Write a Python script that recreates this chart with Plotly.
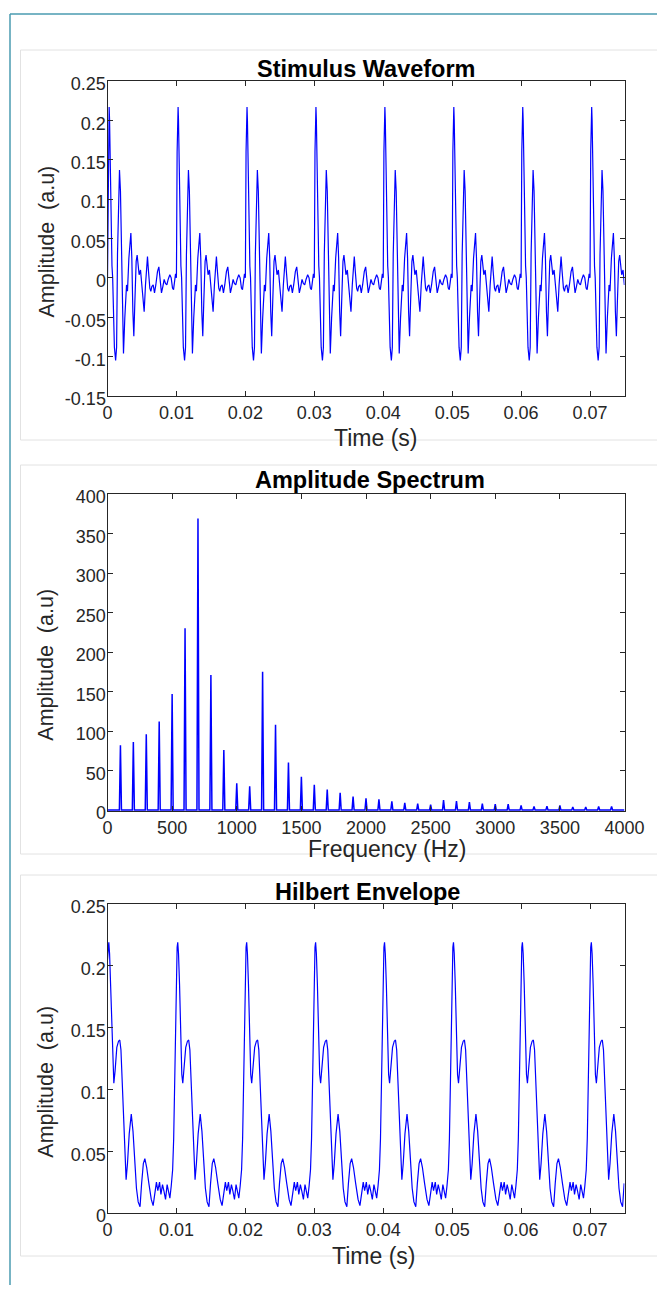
import numpy as np
import plotly.graph_objects as go

# page is 665x1293; the body keeps its 8px margin, so the figure is 16px smaller
PAGE_W, PAGE_H = 665, 1293
MARGIN = 8
W, H = PAGE_W - 2 * MARGIN, PAGE_H - 2 * MARGIN

# One 10 ms period of the stimulus (ms, a.u.)
wave_t_ms = [0.00, 0.10, 0.17, 0.24, 0.30, 0.36, 0.45, 0.55, 0.65, 0.75, 0.88, 1.00,
             1.18, 1.32, 1.45, 1.62, 1.74, 1.88, 2.03, 2.18, 2.32, 2.51, 2.76, 2.90,
             3.10, 3.39, 3.53, 3.68, 3.82, 3.97, 4.16, 4.30, 4.45, 4.59, 4.79, 4.98,
             5.17, 5.32, 5.51, 5.66, 5.80, 5.95, 6.14, 6.29, 6.43, 6.63, 6.82, 7.01,
             7.25, 7.45, 7.64, 7.83, 8.03, 8.22, 8.41, 8.61, 8.80, 9.04, 9.24, 9.43,
             9.58, 9.72, 9.87, 9.95]
wave_amp = [0.000, 0.160, 0.205, 0.217, 0.200, 0.162, 0.140, 0.060, 0.015, 0.000, -0.050, -0.088,
            -0.105, -0.088, 0.030, 0.110, 0.137, 0.110, 0.030, -0.060, -0.096, -0.051, -0.009, -0.017,
            0.025, 0.057, 0.025, -0.043, -0.074, -0.030, 0.021, 0.029, 0.017, 0.004, 0.010, -0.009,
            -0.030, -0.043, -0.009, 0.017, 0.027, 0.008, -0.013, -0.017, -0.011, -0.009, -0.019, -0.009,
            0.008, 0.014, 0.000, -0.019, -0.011, -0.002, -0.007, -0.009, -0.002, 0.004, 0.000, -0.013,
            -0.015, -0.007, 0.005, 0.002]

# One period of the Hilbert envelope
env_t_ms = [0.00, 0.10, 0.19, 0.30, 0.45, 0.60, 0.78, 0.92, 1.10, 1.35, 1.60, 1.78,
            1.95, 2.15, 2.35, 2.52, 2.70, 2.90, 3.15, 3.45, 3.70, 3.95, 4.20, 4.45,
            4.72, 4.95, 5.20, 5.42, 5.68, 6.00, 6.35, 6.62, 6.85, 7.10, 7.30, 7.55,
            7.75, 7.98, 8.18, 8.42, 8.65, 8.85, 9.05, 9.25, 9.45, 9.60, 9.72, 9.82, 9.92]
env_amp = [0.205, 0.215, 0.219, 0.210, 0.185, 0.145, 0.112, 0.105, 0.115, 0.134, 0.139, 0.140,
           0.132, 0.105, 0.072, 0.045, 0.027, 0.040, 0.064, 0.080, 0.066, 0.043, 0.020, 0.009,
           0.005, 0.024, 0.040, 0.044, 0.037, 0.024, 0.011, 0.006, 0.016, 0.025, 0.018, 0.025,
           0.015, 0.023, 0.018, 0.011, 0.023, 0.018, 0.012, 0.022, 0.035, 0.060, 0.100, 0.140, 0.180]

period_ms = 10
n_periods = 8
t_end = 0.075

# Harmonic peaks of the amplitude spectrum
harmonic_hz = [100, 200, 300, 400, 500, 600, 700, 800, 900, 1000, 1100, 1200, 1300,
               1400, 1500, 1600, 1700, 1800, 1900, 2000, 2100, 2200, 2300, 2400, 2500,
               2600, 2700, 2800, 2900, 3000, 3100, 3200, 3300, 3400, 3500, 3600, 3700,
               3800, 3900]
harmonic_amp = [82, 86, 96, 112, 147, 230, 369, 171, 76, 34, 30, 175, 108,
                60, 42, 32, 26, 22, 17, 15, 13.5, 11, 9, 8, 7,
                12.5, 11.5, 10, 8, 7.5, 7.5, 6, 4.5, 5, 6, 4, 4,
                4.5, 4.5]

time_ticks = [0, 0.01, 0.02, 0.03, 0.04, 0.05, 0.06, 0.07]
time_ticktext = ["0", "0.01", "0.02", "0.03", "0.04", "0.05", "0.06", "0.07"]
wave_yticks = [-0.15, -0.1, -0.05, 0, 0.05, 0.1, 0.15, 0.2, 0.25]
wave_yticktext = ["-0.15", "-0.1", "-0.05", "0", "0.05", "0.1", "0.15", "0.2", "0.25"]
freq_ticks = [0, 500, 1000, 1500, 2000, 2500, 3000, 3500, 4000]
spec_yticks = [0, 50, 100, 150, 200, 250, 300, 350, 400]
env_yticks = [0, 0.05, 0.1, 0.15, 0.2, 0.25]
env_yticktext = ["0", "0.05", "0.1", "0.15", "0.2", "0.25"]


def repeat_period(t_ms, amp):
    # the stimulus repeats every 10 ms, so lay the read period end to end
    t = np.concatenate([np.array(t_ms) / 1000 + k * period_ms / 1000 for k in range(n_periods)])
    a = np.tile(amp, n_periods)
    keep = t <= t_end
    return t[keep], a[keep]


wave_t, wave_y = repeat_period(wave_t_ms, wave_amp)
env_t, env_y = repeat_period(env_t_ms, env_amp)

# spectrum as a line: zero floor with a narrow spike at each harmonic
spec_x, spec_y = [0], [0]
for f, a in zip(harmonic_hz, harmonic_amp):
    spec_x += [f - 8, f, f + 8]
    spec_y += [0, a, 0]
spec_x.append(4000)
spec_y.append(0)


# page pixel -> paper fraction
def px_x(x):
    return (x - MARGIN) / W


def px_y(y):
    return 1 - (y - MARGIN) / H


FONT = "Arial, Liberation Sans, sans-serif"
AX = dict(
    showline=True, linecolor="#262626", linewidth=1, mirror="ticks",
    ticks="inside", ticklen=5, tickcolor="#262626", showgrid=False, zeroline=False,
    tickfont=dict(family=FONT, size=18, color="#262626"), tickmode="array", automargin=False,
)
YAX = dict(AX, ticklabelshift=3, ticklabelstandoff=-3)

fig = go.Figure()
fig.add_trace(go.Scatter(x=wave_t, y=wave_y, mode="lines", line=dict(color="#0000ff", width=1.2),
                         xaxis="x", yaxis="y", showlegend=False))
fig.add_trace(go.Scatter(x=spec_x, y=spec_y, mode="lines", line=dict(color="#0000ff", width=1.5),
                         xaxis="x2", yaxis="y2", showlegend=False))
fig.add_trace(go.Scatter(x=env_t, y=env_y, mode="lines", line=dict(color="#0000ff", width=1.2),
                         xaxis="x3", yaxis="y3", showlegend=False))

xdom = [px_x(107.5), px_x(624.5)]
fig.update_layout(
    width=W, height=H, margin=dict(l=0, r=0, t=0, b=0, autoexpand=False),
    paper_bgcolor="white", plot_bgcolor="white",
    xaxis=dict(AX, domain=xdom, range=[0, 0.075], tickvals=time_ticks, ticktext=time_ticktext, anchor="y"),
    yaxis=dict(YAX, domain=[px_y(396), px_y(81)], range=[-0.15, 0.25], tickvals=wave_yticks,
               ticktext=wave_yticktext, anchor="x"),
    xaxis2=dict(AX, domain=xdom, range=[0, 4000], tickvals=freq_ticks, anchor="y2"),
    yaxis2=dict(YAX, domain=[px_y(811), px_y(494)], range=[-1.2, 400], tickvals=spec_yticks, anchor="x2"),
    xaxis3=dict(AX, domain=xdom, range=[0, 0.075], tickvals=time_ticks, ticktext=time_ticktext, anchor="y3"),
    yaxis3=dict(YAX, domain=[px_y(1213), px_y(904)], range=[0, 0.25], tickvals=env_yticks,
                ticktext=env_yticktext, anchor="x3"),
)

# page frame and the light panel boxes
frame = "#4a9bb0"
box = "#e2e2e2"
shapes = [
    dict(type="line", x0=px_x(10), x1=1, y0=px_y(14), y1=px_y(14), line=dict(color=frame, width=1.5)),
    dict(type="line", x0=px_x(10), x1=px_x(10), y0=px_y(14), y1=0, line=dict(color=frame, width=1.5)),
]
for top, bottom in [(50, 440), (465, 854), (875, 1256)]:
    shapes.append(dict(type="rect", x0=px_x(20.5), x1=1.01, y0=px_y(bottom), y1=px_y(top),
                       line=dict(color=box, width=1), layer="below"))
for s in shapes:
    s.update(xref="paper", yref="paper")
fig.update_layout(shapes=shapes)

# (text, x, y, size, angle, bold) with x, y in page pixels
labels = [
    ("Stimulus Waveform", 366, 69.5, 23.5, 0, True),
    ("Amplitude Spectrum", 370, 480, 23.5, 0, True),
    ("Hilbert Envelope", 367, 891.5, 23.5, 0, True),
    ("Time (s)", 375, 438, 23, 0, False),
    ("Frequency (Hz)", 387, 849, 23, 0, False),
    ("Time (s)", 373, 1256, 23, 0, False),
    ("Amplitude \u00a0(a.u)", 47, 241.5, 21.5, -90, False),
    ("Amplitude \u00a0(a.u)", 46, 664.7, 21.5, -90, False),
    ("Amplitude \u00a0(a.u)", 46, 1081.7, 21.5, -90, False),
]
for text, x, y, size, angle, bold in labels:
    fig.add_annotation(
        text=f"<b>{text}</b>" if bold else text,
        x=px_x(x), y=px_y(y), xref="paper", yref="paper",
        xanchor="center", yanchor="middle", showarrow=False, textangle=angle,
        font=dict(family=FONT, size=size, color="#000000" if bold else "#262626"),
    )

fig.write_html("out.html", config={"displayModeBar": False})
